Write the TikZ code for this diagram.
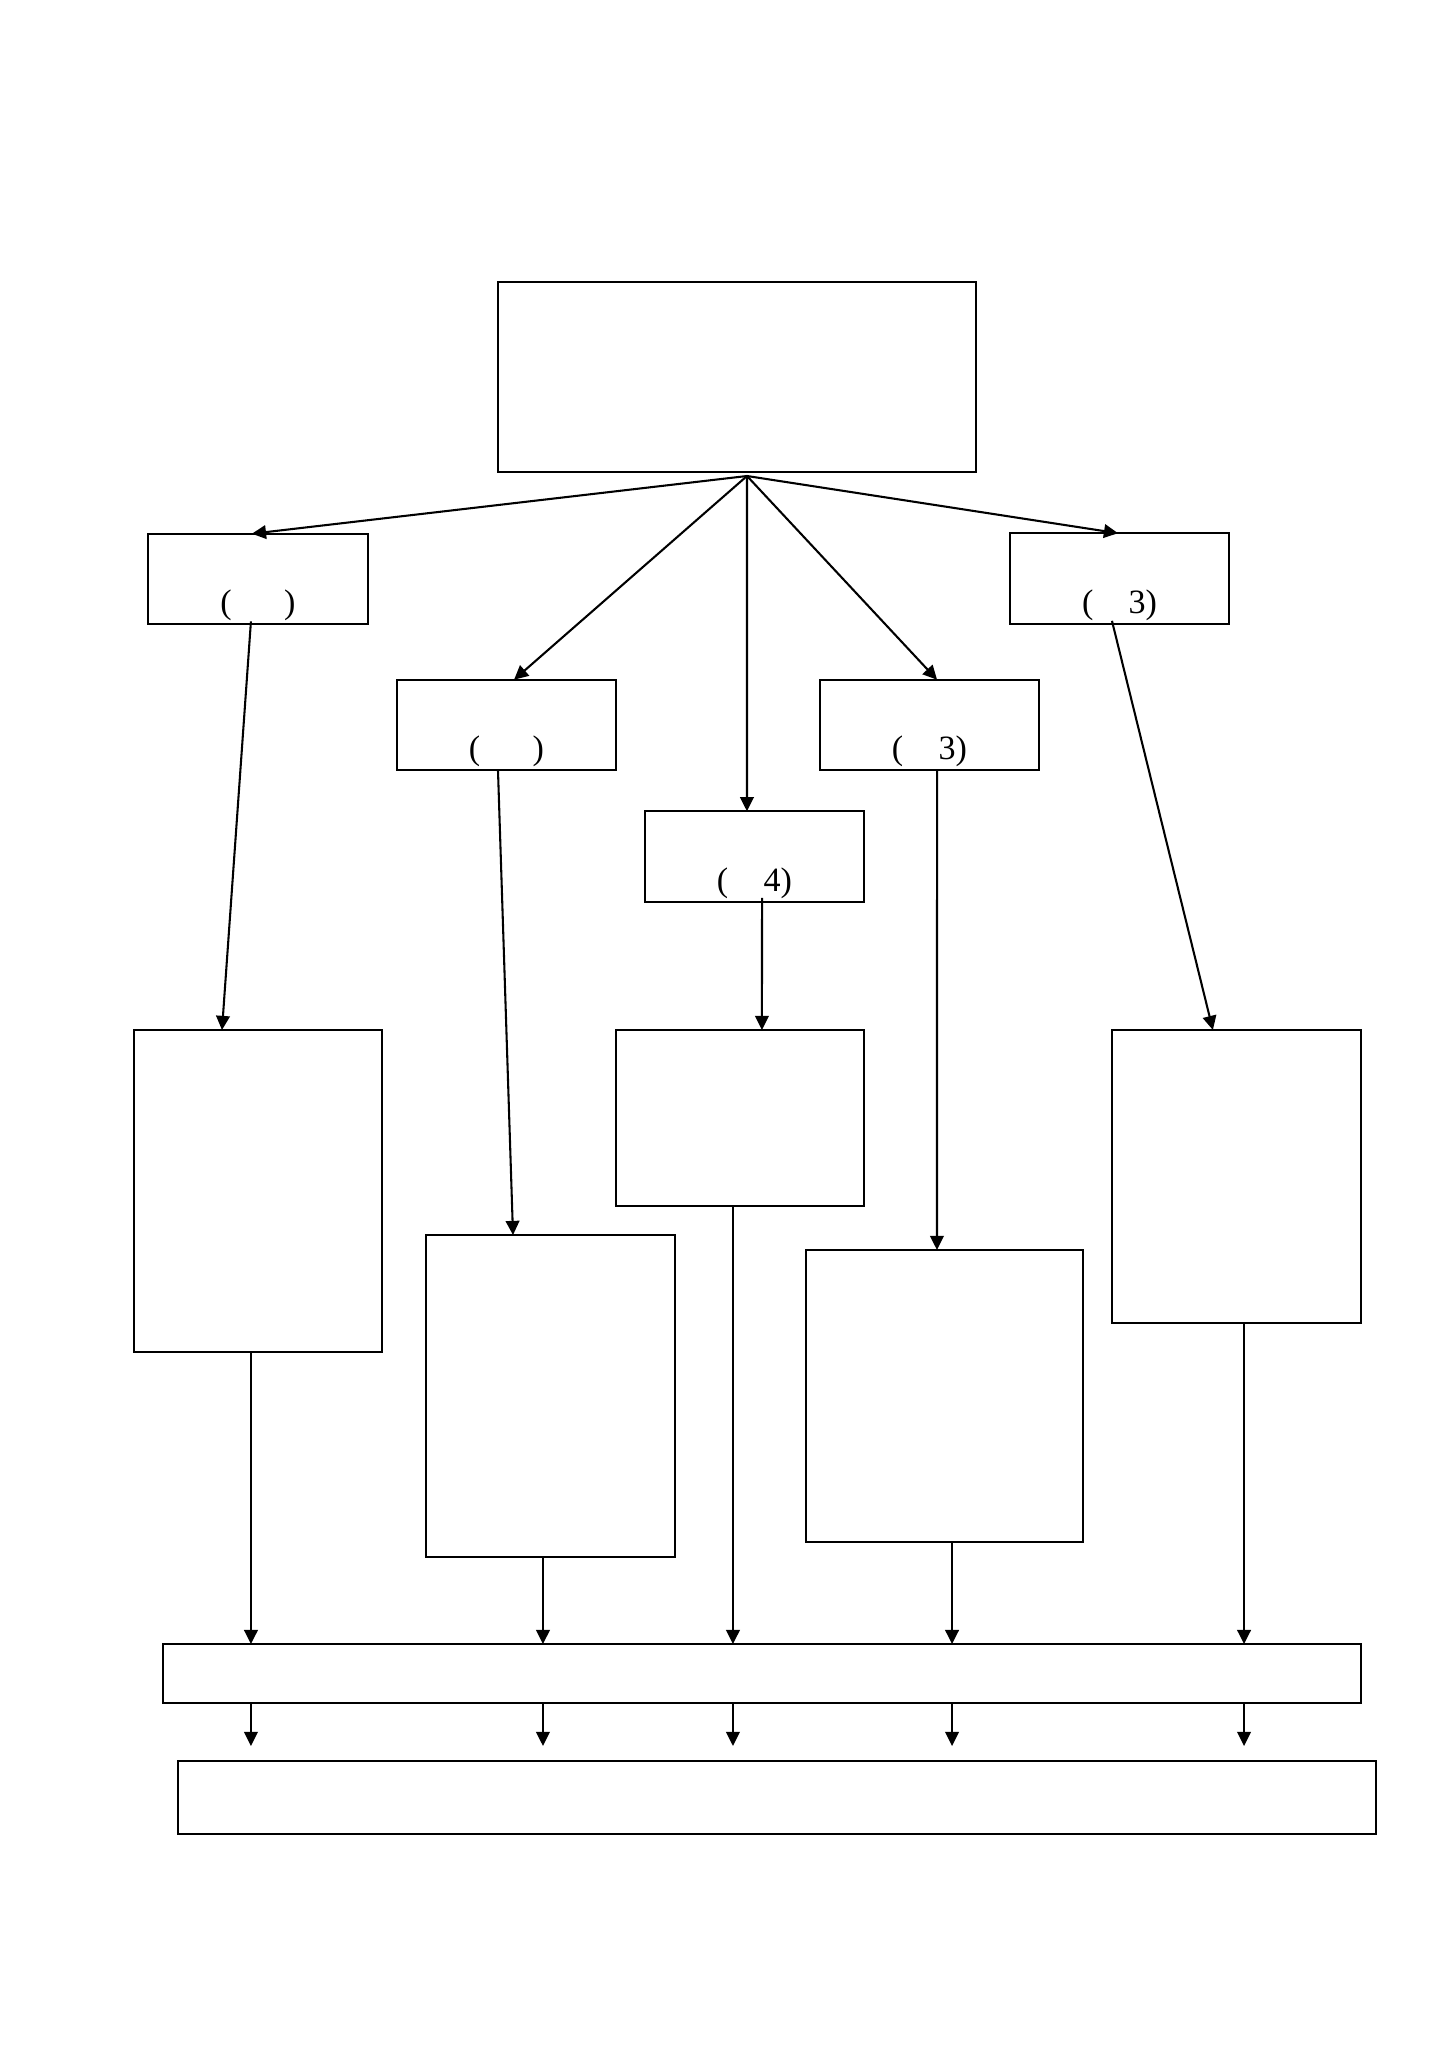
\documentclass[tikz,border=0pt]{standalone}
\usepackage{fontspec}
\setmainfont{Liberation Serif}
\usetikzlibrary{arrows.meta}

\begin{document}
\begin{tikzpicture}[x=0.41084pt, y=-0.41084pt, line width=0.85pt, >={Triangle[length=5.8pt,width=5.6pt]},
	box/.style={draw, inner sep=0pt, outer sep=0pt},
	small/.style={box, minimum width=90.2pt, minimum height=37.2pt},
	tall/.style={box, minimum width=102pt, minimum height=132.3pt},
	lbl/.style={anchor=base, inner sep=0pt, font=\fontsize{14}{16}\selectfont}]
	\useasboundingbox (0,0) rectangle (1449,2050);
	% top and first row
	\node[box, minimum width=196.4pt, minimum height=78.1pt] (top) at (737,377) {};
	\coordinate (fan) at (747,476);
	\node[small] (A) at (258,579) {};
	\node[small] (B) at (506.5,725) {};
	\node[small] (C) at (754.5,856.5) {};
	\node[small] (E) at (929.5,725) {};
	\node[small] (D) at (1119.5,578.5) {};
	\node[lbl] (la) at ([yshift=4.3pt]A.south) {(\hspace{21.5pt})};
	\node[lbl] (lb) at ([yshift=4.3pt]B.south) {(\hspace{21.5pt})};
	\node[lbl] (lc) at ([yshift=4.3pt]C.south) {(\hspace{14.5pt}4)};
	\node[lbl] (le) at ([yshift=4.3pt]E.south) {(\hspace{14.5pt}3)};
	\node[lbl] (ld) at ([yshift=4.3pt]D.south) {(\hspace{14.5pt}3)};
	\draw[->] (fan) -- ([xshift=-2.5pt]A.north);
	\draw[->] (fan) -- ([xshift=3.1pt]B.north);
	\draw[->] (fan) -- ([xshift=-3.1pt]C.north);
	\draw[->] (fan) -- ([xshift=3.1pt]E.north);
	\draw[->] (fan) -- ([xshift=-0.6pt]D.north);
	% large boxes
	\node[tall] (LA) at (258,1191) {};
	\node[tall] (LB) at (550.5,1396) {};
	\node[box, minimum width=102pt, minimum height=72.3pt] (LC) at (740,1118) {};
	\node[box, minimum width=113.8pt, minimum height=120pt] (LE) at (944.5,1396) {};
	\node[box, minimum width=102.3pt, minimum height=120.4pt] (LD) at (1236.5,1176.5) {};
	\draw[->] ([xshift=-2.9pt,yshift=1.2pt]A.south) -- ([xshift=-14.8pt]LA.north);
	\draw[->] ([xshift=-3.5pt]B.south) -- ([xshift=-15.4pt]LB.north);
	\draw[->] ([xshift=3.1pt,yshift=1.6pt]C.south) -- ([xshift=9pt]LC.north);
	\draw[->] ([xshift=3.1pt]E.south) -- ([xshift=-3.1pt]LE.north);
	\draw[->] ([xshift=-3.1pt,yshift=1.2pt]D.south) -- ([xshift=-9.7pt]LD.north);
	% bottom bars
	\node[box, minimum width=492.2pt, minimum height=24.2pt] (bar1) at (762,1673.5) {};
	\node[box, minimum width=492.2pt, minimum height=30pt] (bar2) at (777,1797.5) {};
	\foreach \n/\dx in {LA/-2.9pt, LB/-3.1pt, LC/-2.9pt, LE/3.1pt, LD/3.1pt} {
		\draw[->] ([xshift=\dx]\n.south) -- ([xshift=\dx]\n.south |- bar1.north);
		\draw[->] ([xshift=\dx]\n.south |- bar1.south) -- ++(0,43);
	}
\end{tikzpicture}
\end{document}
